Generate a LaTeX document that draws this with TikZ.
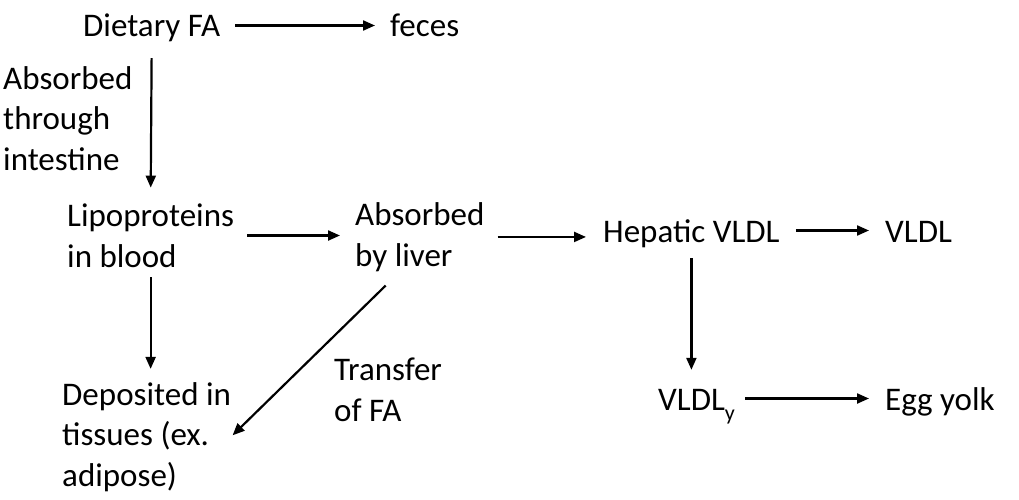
\documentclass[tikz,border=0pt]{standalone}
\usepackage{fontspec}
\setmainfont{Carlito}
\usetikzlibrary{arrows.meta}

\tikzset{
  txt/.style={inner sep=0pt, anchor=base west, font=\fontsize{33}{40.5}\selectfont},
  oneline/.style={txt, text height=28pt, text depth=5pt},
  multiline/.style={txt, align=left},
  arr/.style={-{Triangle[length=12pt,width=10pt]}, line width=2.2pt},
}

\begin{document}
\begin{tikzpicture}[x=1pt,y=-1pt]
        \useasboundingbox (0,0) rectangle (1019,500);

        % Riga in alto (dieta)
        \node[oneline](dietary) at (83,37) {Dietary FA};
        \node[oneline](feces) at (390,37) {feces};
        \node[multiline](intestine) at (3,170) {Absorbed\\through\\intestine};

        % Riga centrale
        \node[multiline](lipo) at (67,267) {Lipoproteins\\in blood};
        \node[multiline](liver) at (355,266) {Absorbed\\by liver};
        \node[oneline](hepatic) at (603,242) {Hepatic VLDL};
        \node[oneline](vldl) at (885,242) {VLDL};

        % Riga in basso
        \node[multiline](deposited) at (62,486) {Deposited in\\tissues (ex.\\adipose)};
        \node[multiline](transfer) at (334,421) {Transfer\\of FA};
        \node[oneline](vldly) at (658,410) {VLDL\raisebox{-10pt}{\fontsize{22}{22}\selectfont y}};
        \node[oneline](egg) at (885,410) {Egg yolk};

        % Collegamenti
        \draw[arr, shorten <=15pt, shorten >=15pt] (dietary.east)--(feces.west);
        \draw[arr, shorten <=16pt, shorten >=16pt] (dietary.south)--(lipo.north);
        \draw[arr, shorten <=13pt, shorten >=15pt] (lipo.east)--(liver.west |- lipo.east);
        \draw[arr, shorten <=13pt, shorten >=17pt] (liver.east)--(hepatic.west |- liver.east);
        \draw[arr, shorten <=16pt, shorten >=16pt] (hepatic.east)--(vldl.west);
        \draw[arr, shorten <=11pt, shorten >=12pt] (hepatic.south)--(hepatic.south |- vldly.north);
        \draw[arr, shorten <=10pt, shorten >=16pt] (vldly.east)--(egg.west);
        \draw[arr, shorten <=10pt, shorten >=13pt] (lipo.south)--(lipo.south |- deposited.north);
        \draw[arr, shorten <=20pt, shorten >=2pt] ([xshift=45pt]liver.south west)--(deposited.east);
    \end{tikzpicture}
\end{document}
